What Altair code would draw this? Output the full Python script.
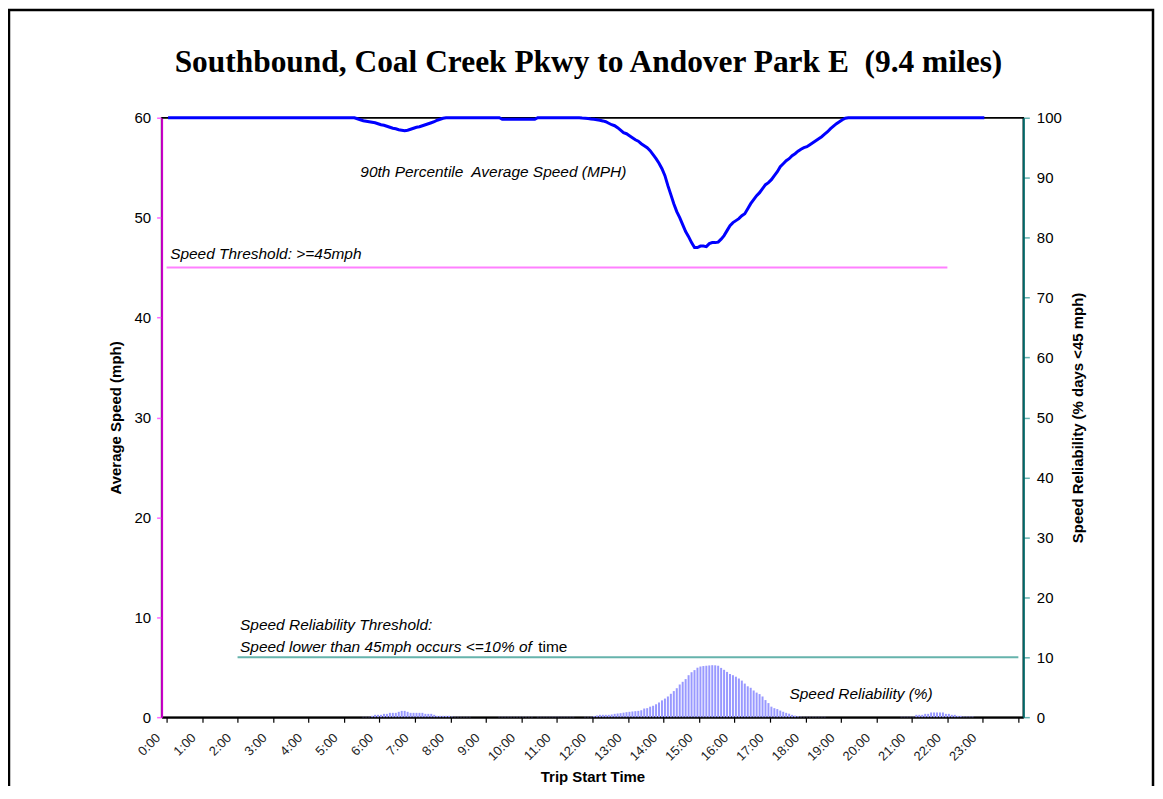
import json
import altair as alt
import pandas as pd

# ---------------- data ----------------
hour_labels = ["0:00", "1:00", "2:00", "3:00", "4:00", "5:00", "6:00", "7:00",
               "8:00", "9:00", "10:00", "11:00", "12:00", "13:00", "14:00", "15:00",
               "16:00", "17:00", "18:00", "19:00", "20:00", "21:00", "22:00", "23:00"]

slot_minutes = 5

# 90th percentile average speed (mph), one value per 5-minute slot (0:00 .. 23:00)
speed_90th = [
    60, 60, 60, 60, 60, 60, 60, 60, 60, 60, 60, 60,                                   # 0
    60, 60, 60, 60, 60, 60, 60, 60, 60, 60, 60, 60,                                   # 1
    60, 60, 60, 60, 60, 60, 60, 60, 60, 60, 60, 60,                                   # 2
    60, 60, 60, 60, 60, 60, 60, 60, 60, 60, 60, 60,                                   # 3
    60, 60, 60, 60, 60, 60, 60, 60, 60, 60, 60, 60,                                   # 4
    60, 60, 60, 60, 59.9, 59.8, 59.7, 59.65, 59.6, 59.55, 59.5, 59.4,                 # 5
    59.3, 59.25, 59.15, 59.05, 58.95, 58.9, 58.8, 58.75, 58.7, 58.75, 58.85, 58.95,   # 6
    59.05, 59.1, 59.2, 59.3, 59.4, 59.5, 59.6, 59.75, 59.85, 59.95, 60, 60,           # 7
    60, 60, 60, 60, 60, 60, 60, 60, 60, 60, 60, 60,                                   # 8
    60, 60, 60, 60, 60, 59.85, 59.85, 59.85, 59.85, 59.85, 59.85, 59.85,              # 9
    59.85, 59.85, 59.85, 59.85, 59.85, 60, 60, 60, 60, 60, 60, 60,                    # 10
    60, 60, 60, 60, 60, 60, 60, 60, 59.97, 59.95, 59.92, 59.88,                       # 11
    59.85, 59.8, 59.75, 59.68, 59.6, 59.45, 59.3, 59.2, 59.0, 58.75, 58.5, 58.4,      # 12
    58.2, 58.0, 57.8, 57.65, 57.4, 57.2, 57.0, 56.7, 56.3, 55.9, 55.45, 54.9,         # 13
    54.2, 53.2, 52.3, 51.4, 50.6, 50.0, 49.3, 48.6, 48.1, 47.5, 47.0, 47.0,           # 14
    47.15, 47.15, 47.1, 47.4, 47.5, 47.5, 47.55, 47.85, 48.2, 48.7, 49.2, 49.5,       # 15
    49.7, 49.9, 50.2, 50.4, 50.9, 51.4, 51.8, 52.2, 52.5, 52.9, 53.3, 53.5,           # 16
    53.8, 54.2, 54.6, 55.1, 55.4, 55.7, 55.9, 56.2, 56.4, 56.65, 56.85, 57.0,         # 17
    57.1, 57.3, 57.5, 57.7, 57.9, 58.1, 58.35, 58.6, 58.9, 59.15, 59.4, 59.6,         # 18
    59.8, 59.95, 60, 60, 60, 60, 60, 60, 60, 60, 60, 60,                              # 19
    60, 60, 60, 60, 60, 60, 60, 60, 60, 60, 60, 60,                                   # 20
    60, 60, 60, 60, 60, 60, 60, 60, 60, 60, 60, 60,                                   # 21
    60, 60, 60, 60, 60, 60, 60, 60, 60, 60, 60, 60,                                   # 22
    60,                                                                               # 23
]

# speed reliability (% of days below 45 mph), one value per 5-minute slot
reliability_pct = [
    0, 0, 0, 0, 0, 0, 0, 0, 0, 0, 0, 0,                                               # 0
    0, 0, 0, 0, 0, 0, 0, 0, 0, 0, 0, 0,                                               # 1
    0, 0, 0, 0, 0, 0, 0, 0, 0, 0, 0, 0,                                               # 2
    0, 0, 0, 0, 0, 0, 0, 0, 0, 0, 0, 0,                                               # 3
    0, 0, 0, 0, 0, 0, 0, 0, 0, 0, 0, 0,                                               # 4
    0, 0, 0, 0, 0, 0, 0.05, 0.05, 0.05, 0.22, 0.39, 0.39,                             # 5
    0.39, 0.55, 0.55, 0.72, 0.72, 0.72, 0.89, 1.05, 1.05, 0.89, 0.72, 0.72,           # 6
    0.72, 0.72, 0.72, 0.55, 0.55, 0.55, 0.39, 0.22, 0.22, 0.22, 0.22, 0.22,           # 7
    0.1, 0.05, 0.05, 0.05, 0.05, 0.05, 0.05, 0, 0, 0, 0, 0,                           # 8
    0, 0, 0, 0, 0.05, 0.05, 0.05, 0.05, 0.05, 0.05, 0.05, 0.05,                       # 9
    0.05, 0.05, 0.05, 0.05, 0, 0.05, 0.05, 0.05, 0.05, 0.05, 0.05, 0.05,              # 10
    0.05, 0.05, 0.05, 0.05, 0.05, 0.05, 0, 0, 0, 0.05, 0.05, 0.05,                    # 11
    0.17, 0.28, 0.39, 0.39, 0.39, 0.39, 0.45, 0.55, 0.61, 0.67, 0.75, 0.83,           # 12
    0.89, 0.95, 1.0, 1.05, 1.15, 1.44, 1.5, 1.75, 1.9, 2.15, 2.45, 2.8,               # 13
    3.1, 3.45, 3.9, 4.35, 4.83, 5.45, 5.9, 6.35, 7.0, 7.5, 7.85, 8.25,                # 14
    8.45, 8.53, 8.58, 8.63, 8.67, 8.65, 8.58, 8.22, 7.9, 7.55, 7.2, 7.0,              # 15
    6.75, 6.45, 6.1, 5.6, 5.15, 4.9, 4.45, 4.1, 3.85, 3.45, 2.85, 2.35,               # 16
    1.75, 1.5, 1.35, 1.1, 0.9, 0.72, 0.58, 0.38, 0.25, 0.14, 0.07, 0.05,              # 17
    0.05, 0.05, 0.05, 0.05, 0.05, 0.05, 0.05, 0, 0, 0, 0, 0,                          # 18
    0, 0, 0, 0, 0, 0, 0, 0, 0, 0, 0, 0,                                               # 19
    0, 0, 0, 0, 0, 0, 0, 0, 0.06, 0.06, 0.06, 0.06,                                   # 20
    0.06, 0.39, 0.39, 0.39, 0.55, 0.55, 0.78, 0.78, 0.78, 0.78, 0.78, 0.55,           # 21
    0.55, 0.39, 0.39, 0.22, 0.22, 0.1, 0.1, 0.1, 0.1, 0, 0, 0,                        # 22
    0, 0, 0, 0, 0, 0, 0, 0, 0, 0, 0, 0,                                               # 23
]

speed_threshold = [45]
speed_threshold_span = [0, 22]          # hours
reliability_threshold = [10]
reliability_threshold_span = [2, 24]    # hours

NB = "\u00a0"
left_note_text = ["90th Percentile" + NB + " Average Speed (MPH)", "Speed Threshold: >=45mph"]
left_note_hour = [5.46, 0.1]
left_note_mph = [54.1, 45.9]

right_note_text = ["Speed Reliability Threshold:",
                   "Speed lower than 45mph occurs <=10% of",
                   "Speed Reliability (%)"]
right_note_hour = [2.07, 2.07, 17.55]
right_note_pct = [14.6, 10.8, 3.0]

upright_note_text = ["time"]
upright_note_hour = [10.47]
upright_note_pct = [10.8]

title_text = ["Southbound, Coal Creek Pkwy to Andover Park E" + NB + " (9.4 miles)"]

# ---------------- tables ----------------
speed_df = pd.DataFrame({
    "hour": [(i + 0.5) * slot_minutes / 60 for i in range(len(speed_90th))],
    "speed": speed_90th,
})
rel_df = pd.DataFrame({
    "hour": [(i + 0.5) * slot_minutes / 60 for i in range(len(reliability_pct))],
    "pct": reliability_pct,
})
thr45_df = pd.DataFrame({"hour": [speed_threshold_span[0]], "end": [speed_threshold_span[1]],
                         "mph": speed_threshold})
thr10_df = pd.DataFrame({"hour": [reliability_threshold_span[0]], "end": [reliability_threshold_span[1]],
                         "pct": reliability_threshold})
left_notes = pd.DataFrame({"hour": left_note_hour, "mph": left_note_mph, "text": left_note_text})
right_notes = pd.DataFrame({"hour": right_note_hour, "pct": right_note_pct, "text": right_note_text})
upright_notes = pd.DataFrame({"hour": upright_note_hour, "pct": upright_note_pct, "text": upright_note_text})
title_df = pd.DataFrame({"text": title_text})
deco_df = pd.DataFrame({"deco": [0]})

# ---------------- styling ----------------
FONT = "Liberation Sans"
x_scale = alt.Scale(domain=[0, 24], nice=False, zero=False)
mph_scale = alt.Scale(domain=[0, 60], nice=False)
pct_scale = alt.Scale(domain=[0, 100], nice=False)

label_expr = "(%s)[datum.value] || ''" % json.dumps(hour_labels)

x_axis = alt.Axis(
    values=list(range(25)), labelExpr=label_expr, labelAngle=315,
    labelAlign="right", labelBaseline="top", labelPadding=9, labelOffset=-13,
    labelFontSize=13, labelFont=FONT, labelColor="#222222",
    labelOverlap=False, labelFlush=False, labelBound=False,
    tickSize=5, tickColor="black", tickWidth=1.2,
    domainColor="black", domainWidth=2, grid=False,
    title="Trip Start Time", titleFont=FONT, titleFontSize=15, titleFontWeight="bold",
    titleColor="black", titleY=65, titleBaseline="alphabetic",
)
left_axis = alt.Axis(
    orient="left", values=[0, 10, 20, 30, 40, 50, 60], grid=False,
    domainColor="#CC00CC", domainWidth=2, tickColor="#FF66FF", tickSize=5, tickWidth=1.5,
    labelFontSize=15, labelFont=FONT, labelColor="black", labelPadding=6,
    labelOverlap=False, labelFlush=False,
    title="Average Speed (mph)", titleFont=FONT, titleFontSize=15, titleFontWeight="bold",
    titleColor="black", titleAngle=270, titleX=-41.5, titleY=300.5,
    titleAlign="center", titleBaseline="alphabetic",
)
right_axis = alt.Axis(
    orient="right", values=list(range(0, 101, 10)), grid=False,
    domainColor="#006666", domainWidth=2, tickColor="#66B2B2", tickSize=6, tickWidth=1.5,
    labelFontSize=15, labelFont=FONT, labelColor="black", labelPadding=7,
    labelOverlap=False, labelFlush=False,
    title="Speed Reliability (% days <45 mph)", titleFont=FONT, titleFontSize=15,
    titleFontWeight="bold", titleColor="black", titleAngle=270, titleX=59.5, titleY=300.5,
    titleAlign="center", titleBaseline="alphabetic",
)

X = alt.X("hour:Q", scale=x_scale, axis=x_axis)

# ---------------- layers ----------------
frame = alt.Chart(deco_df).mark_rect(fillOpacity=0, stroke="black", strokeWidth=2.5).encode(
    x=alt.value(-153), x2=alt.value(994), y=alt.value(-108), y2=alt.value(800)
)
top_border = alt.Chart(deco_df).mark_rule(color="black", strokeWidth=1.5).encode(
    x=alt.value(0), x2=alt.value(864), y=alt.value(0)
)
title_mark = alt.Chart(title_df).mark_text(
    font="Liberation Serif", fontSize=31.5, fontWeight="bold", color="black",
    align="center", baseline="alphabetic",
).encode(x=alt.value(428), y=alt.value(-46), text="text:N")

thr45 = alt.Chart(thr45_df).mark_rule(color="#FF80FF", strokeWidth=2).encode(
    x=X, x2="end:Q",
    y=alt.Y("mph:Q", scale=mph_scale, axis=None),
)
speed_line = alt.Chart(speed_df).mark_line(color="#0000FF", strokeWidth=3).encode(
    x=X,
    y=alt.Y("speed:Q", scale=mph_scale, axis=left_axis),
)
left_text = alt.Chart(left_notes).mark_text(
    align="left", baseline="alphabetic", font=FONT, fontStyle="italic", fontSize=15.5, color="black"
).encode(
    x=X,
    y=alt.Y("mph:Q", scale=mph_scale, axis=None),
    text="text:N",
)
bars = alt.Chart(rel_df).mark_bar(size=2, color="#9999FF").encode(
    x=X,
    y=alt.Y("pct:Q", scale=pct_scale, axis=right_axis),
)
thr10 = alt.Chart(thr10_df).mark_rule(color="#66B3AC", strokeWidth=2).encode(
    x=X, x2="end:Q",
    y=alt.Y("pct:Q", scale=pct_scale, axis=None),
)
right_text = alt.Chart(right_notes).mark_text(
    align="left", baseline="alphabetic", font=FONT, fontStyle="italic", fontSize=15.5, color="black"
).encode(
    x=X,
    y=alt.Y("pct:Q", scale=pct_scale, axis=None),
    text="text:N",
)
upright_text = alt.Chart(upright_notes).mark_text(
    align="left", baseline="alphabetic", font=FONT, fontSize=15.5, color="black"
).encode(
    x=X,
    y=alt.Y("pct:Q", scale=pct_scale, axis=None),
    text="text:N",
)

chart = alt.layer(
    top_border, bars, thr10, thr45, speed_line, left_text, right_text, upright_text, title_mark, frame
).resolve_scale(y="independent").properties(
    width=864,
    height=601,
    autosize=alt.AutoSizeParams(type="none"),
    padding={"left": 154, "top": 109, "right": 132, "bottom": 68},
    background="white",
).configure_view(stroke="black", strokeWidth=1.5)

chart.save("out.html", embed_options={"renderer": "svg", "actions": False})
